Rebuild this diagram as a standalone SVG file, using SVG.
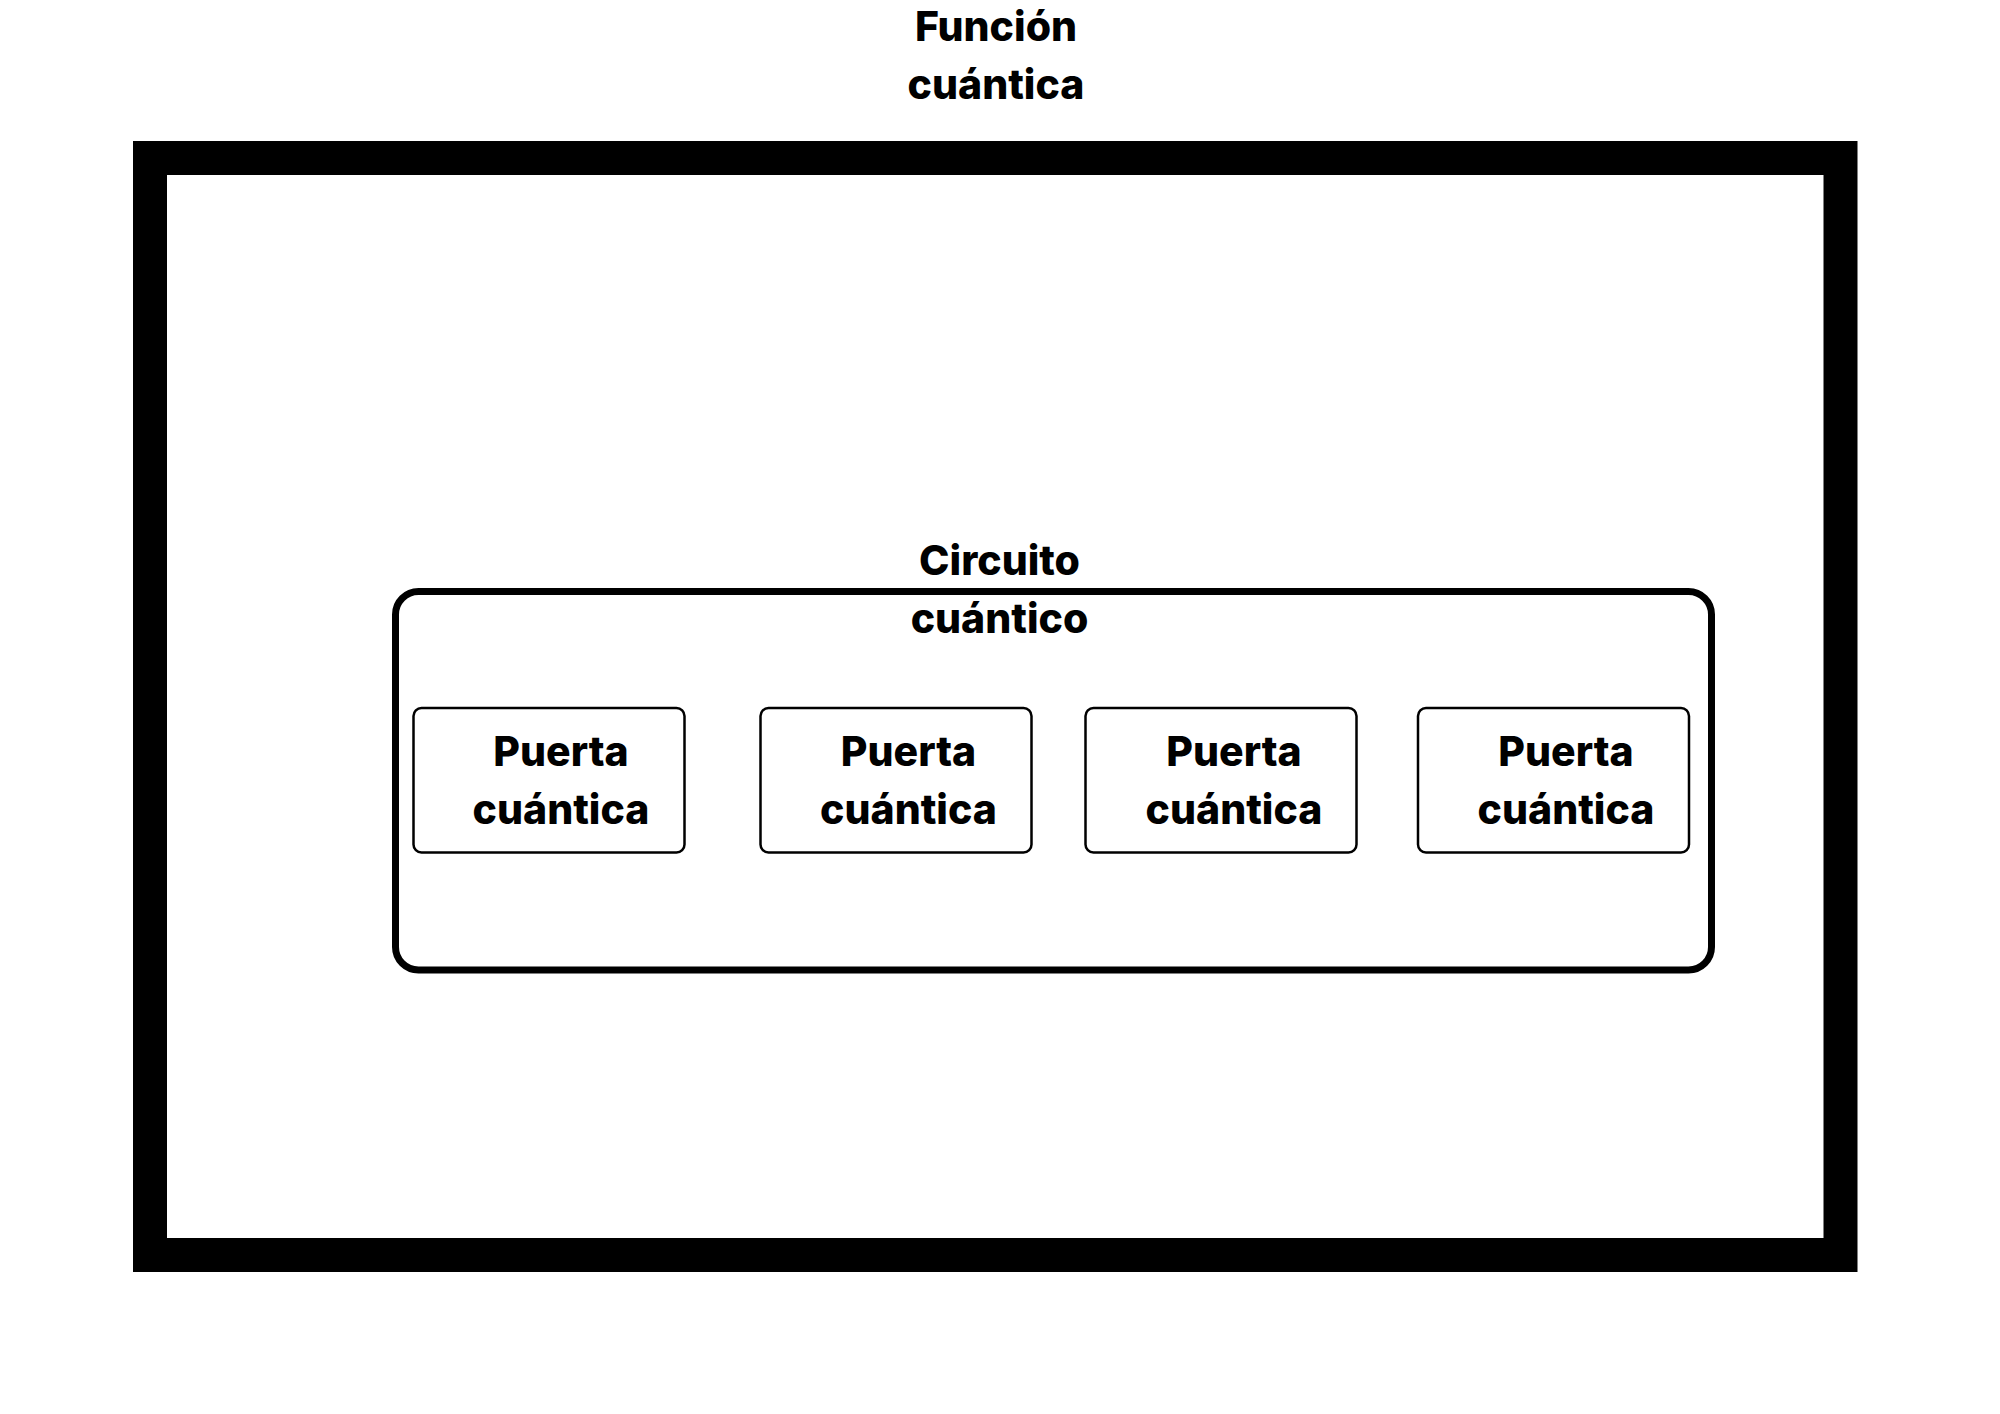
<svg xmlns="http://www.w3.org/2000/svg" width="2000" height="1414" viewBox="0 0 2000 1414">
<style>
.t{font-family:Inter,"Noto Sans","Liberation Sans",sans-serif;font-weight:800;font-size:41px;fill:#000;text-anchor:middle}
.gate{fill:#fff;stroke:#000;stroke-width:2.5}
</style>
<rect x="0" y="0" width="2000" height="1414" fill="#fff"/>
<g id="funcion">
<rect x="150" y="158" width="1690.5" height="1097" fill="none" stroke="#000" stroke-width="34"/>
<text class="t" x="996" y="41">Función</text>
<text class="t" x="996" y="99">cuántica</text>
</g>
<g id="circuito">
<rect x="395.5" y="591.5" width="1316" height="378.5" rx="23" fill="none" stroke="#000" stroke-width="7"/>
<text class="t" x="999.5" y="575">Circuito</text>
<text class="t" x="999.5" y="633">cuántico</text>
</g>
<g id="puerta1">
<rect class="gate" x="413.5" y="708" width="271" height="144.5" rx="8"/>
<text class="t" x="561" y="766">Puerta</text>
<text class="t" x="561" y="824">cuántica</text>
</g>
<g id="puerta2">
<rect class="gate" x="760.5" y="708" width="271" height="144.5" rx="8"/>
<text class="t" x="908.5" y="766">Puerta</text>
<text class="t" x="908.5" y="824">cuántica</text>
</g>
<g id="puerta3">
<rect class="gate" x="1085.5" y="708" width="271" height="144.5" rx="8"/>
<text class="t" x="1234" y="766">Puerta</text>
<text class="t" x="1234" y="824">cuántica</text>
</g>
<g id="puerta4">
<rect class="gate" x="1418" y="708" width="271" height="144.5" rx="8"/>
<text class="t" x="1566" y="766">Puerta</text>
<text class="t" x="1566" y="824">cuántica</text>
</g>
<g id="connectors"/>
</svg>
